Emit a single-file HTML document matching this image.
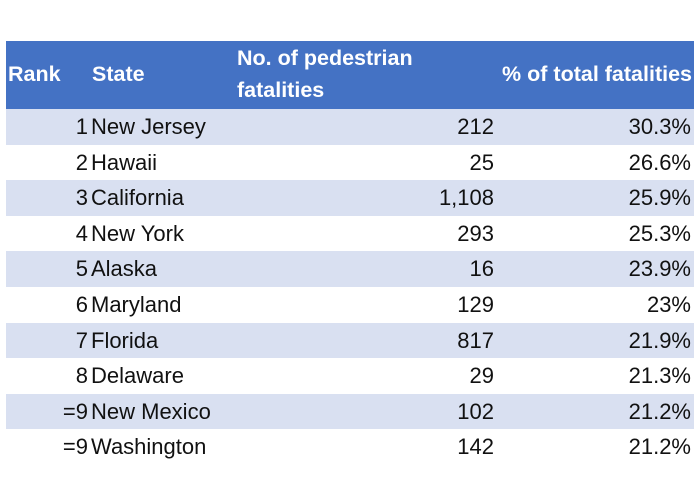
<!DOCTYPE html>
<html><head><style>
body{margin:0;width:700px;height:500px;background:#fff;position:relative;overflow:hidden;font-family:"Liberation Sans",Arial,sans-serif;}
.hdr{position:absolute;left:6px;top:41px;width:688px;height:68px;background:#4472c4;}
.h{position:absolute;color:#fff;font-weight:bold;font-size:21.5px;line-height:32px;}
.row{position:absolute;left:6px;width:688px;height:35.6px;}
.sh{background:#d9e0f1;}
.c{position:absolute;font-size:22px;color:#111;line-height:35.6px;top:0;}
.clip{position:absolute;left:0;top:0;width:700px;height:459px;overflow:hidden;}
</style></head><body>
<div class="clip">
<div class="hdr"></div>
<div class="h" style="left:8px;top:58px">Rank</div>
<div class="h" style="left:92px;top:58px">State</div>
<div class="h" style="left:237px;top:42px">No. of pedestrian<br>fatalities</div>
<div class="h" style="right:8px;top:58px">% of total fatalities</div>
<div id="rows"></div>
</div>
<script>
var d=[["1","New Jersey","212","30.3%"],["2","Hawaii","25","26.6%"],["3","California","1,108","25.9%"],["4","New York","293","25.3%"],["5","Alaska","16","23.9%"],["6","Maryland","129","23%"],["7","Florida","817","21.9%"],["8","Delaware","29","21.3%"],["=9","New Mexico","102","21.2%"],["=9","Washington","142","21.2%"]];
var h="";
d.forEach(function(r,i){
var t=109+i*35.6;
h+='<div class="row'+(i%2==0?' sh':'')+'" style="top:'+t+'px">'+
'<div class="c" style="right:606px">'+r[0]+'</div>'+
'<div class="c" style="left:85px">'+r[1]+'</div>'+
'<div class="c" style="right:200px">'+r[2]+'</div>'+
'<div class="c" style="right:3px">'+r[3]+'</div></div>';
});
document.getElementById("rows").innerHTML=h;
</script>
</body></html>
